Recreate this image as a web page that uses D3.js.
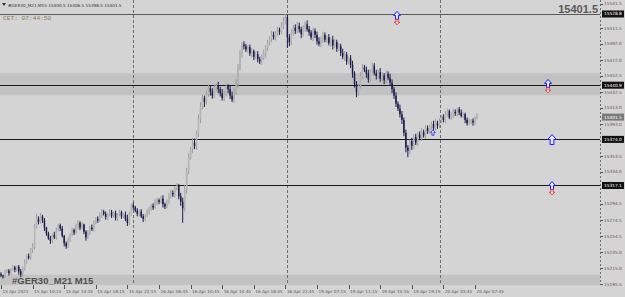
<!DOCTYPE html>
<html><head><meta charset="utf-8">
<script src="https://cdn.jsdelivr.net/npm/d3@7"></script>
<style>html,body{margin:0;padding:0;background:#d4d4d4;overflow:hidden}</style>
</head><body><svg id="c" width="625" height="297"></svg>
<script>
// ---- data ----
const symbolTitle = "#GER30_M21,M15";
const lastOHLC = ["15400.5", "15406.5", "15398.5", "15401.5"];
const serverTime = "CET:  07:44:50";
const watermark = "#GER30_M21 M15";
const firstOpen = 15208;
const closes = [
 15206,15205,15210,15212,15209,15214,15216,15213,15217,15211,
 15207,15215,15222,15230,15228,15238,15241,15266,15276,15272,
 15279,15274,15265,15258,15252,15249,15256,15253,15262,15268,
 15264,15255,15246,15242,15250,15256,15262,15259,15266,15271,
 15265,15269,15260,15253,15259,15265,15263,15271,15276,15274,
 15280,15285,15282,15278,15281,15284,15280,15283,15277,15281,
 15284,15279,15281,15276,15271,15282,15293,15290,15286,15282,
 15285,15279,15276,15280,15284,15288,15292,15290,15296,15299,
 15297,15301,15294,15291,15297,15303,15308,15306,15314,15317,
 15304,15297,15289,15312,15335,15352,15362,15370,15366,15381,
 15399,15415,15425,15420,15430,15437,15433,15428,15438,15441,
 15436,15431,15425,15430,15440,15436,15428,15423,15432,15441,
 15462,15480,15491,15489,15485,15488,15480,15483,15476,15479,
 15473,15470,15475,15480,15487,15493,15498,15503,15500,15505,
 15509,15507,15514,15519,15525,15500,15494,15505,15512,15508,
 15514,15510,15504,15511,15516,15510,15506,15500,15508,15503,
 15495,15492,15498,15503,15497,15500,15493,15497,15490,15494,
 15486,15489,15481,15476,15479,15470,15474,15466,15455,15442,
 15432,15440,15452,15463,15460,15455,15448,15458,15465,15456,
 15452,15457,15449,15453,15447,15455,15450,15444,15436,15428,
 15418,15412,15405,15398,15382,15364,15360,15372,15366,15377,
 15370,15380,15376,15383,15379,15388,15384,15390,15393,15388,
 15394,15391,15396,15402,15398,15405,15409,15401,15404,15408,
 15406,15411,15407,15403,15405,15398,15394,15396,15397,15395,
 15400.5,15401.5];
const upperWick = [
 2,1,3,2,2,1,3,2,1,2, 3,2,4,2,3,2,5,4,6,3, 4,2,3,1,2,3,2,4,3,2,
 2,3,1,2,3,2,3,2,4,3, 2,3,1,2,3,2,4,3,2,3, 4,3,2,3,2,4,3,2,3,2,
 3,2,2,4,5,3,2,3,2,3, 2,3,3,2,4,3,2,3,4,3, 2,3,4,2,3,5,4,3,2,3,
 2,4,5,6,4,5,3,6,5,4, 6,5,4,3,4,5,3,4,3,2, 4,3,5,4,3,2,4,5,6,7,
 5,4,3,4,3,2,3,4,2,3, 4,3,4,5,3,4,3,5,4,3, 4,3,5,6,4,3,4,5,3,4,
 5,4,3,4,3,5,4,3,4,3, 4,5,3,4,3,2,4,3,5,4, 3,4,3,5,4,3,2,4,5,3,
 4,3,5,4,3,4,5,3,4,3, 4,3,5,4,3,4,3,5,4,3, 4,3,5,4,3,4,3,2,4,3,
 4,3,4,5,3,4,3,2,3,4, 5,3,4,2,3,4,3,2,3,4, 3,2,3,4,3,2,3,4,2,3,
 2,5];
const lowerWick = [
 2,3,2,1,3,2,2,3,2,4, 3,2,3,2,2,3,4,3,2,3, 2,3,4,3,2,4,3,2,3,2,
 3,2,4,3,2,3,2,3,2,3, 3,2,3,4,2,3,2,3,2,3, 2,3,2,3,4,2,3,2,3,4,
 2,3,2,3,4,3,2,3,2,3, 3,2,4,3,2,3,2,3,2,3, 3,2,4,3,2,3,2,3,4,3,
 4,5,18,4,5,4,3,5,4,5, 4,5,4,6,3,4,5,4,3,4, 5,4,3,4,3,5,4,3,4,3,
 4,3,5,4,3,4,3,5,4,3, 4,3,4,3,5,4,3,4,3,4, 3,4,3,4,3,13,5,4,3,4,
 3,4,5,3,4,3,4,3,5,4, 4,3,4,5,3,4,3,4,5,3, 4,3,4,3,5,4,3,4,5,4,
 6,4,3,4,3,5,4,3,4,3, 4,3,4,3,5,4,3,4,5,4, 4,3,4,5,4,6,8,4,5,4,
 3,4,3,4,3,4,3,3,4,3, 3,4,3,2,3,4,3,2,3,4, 3,4,3,2,3,4,3,2,3,4,
 3,2];
const timeTickIdx = [0,16,32,48,64,80,96,112,128,144,160,176,192,208,224,240];
const timeTickLabels = ["15 Apr 2021","15 Apr 10:15","15 Apr 14:15","15 Apr 18:15","15 Apr 22:15",
 "16 Apr 06:45","16 Apr 10:45","16 Apr 14:45","16 Apr 18:45","16 Apr 22:45","19 Apr 07:15",
 "19 Apr 11:15","19 Apr 15:15","19 Apr 19:15","20 Apr 03:45","20 Apr 07:45"];
const priceTicks = [15541.5,15511.5,15492.0,15472.0,15452.5,15432.5,15413.0,15393.0,15353.5,
 15334.0,15294.5,15274.5,15254.5,15235.0,15215.0,15195.5];
const levelPrices = [15528.8, 15440.9, 15374.0, 15317.1];
const levelLabels = ["15528.8","15440.9","15374.0","15317.1"];
const zoneLow = [15428.5, 15180];
const zoneHigh = [15455.7, 15207];
const gridIdx = [66.8, 144.8, 222.3];
// arrows: index, top price, has red
const arrowIdx = [200.5, 277, 279, 279];
const arrowPrice = [15532, 15448, 15380, 15322];
const arrowRed = [true, true, false, true];
const arrowSize = [1, 1, 1.25, 1];
const markerIdx = [218.7];
const markerPrice = [15386];

// ---- drawing ----
const svg = d3.select("#c");
const plotR = 600, plotB = 285;
const x = d3.scaleLinear().domain([0, 1]).range([1, 2.975]);
const y = d3.scaleLinear().domain([15195.5, 15511.5]).range([284, 28]);

const g = svg.append("g");
// zones
g.selectAll("rect.zone").data(zoneLow).join("rect")
 .attr("x", 0).attr("width", plotR)
 .attr("y", (d,i)=>y(zoneHigh[i]))
 .attr("height", (d,i)=>Math.min(plotB, y(d)) - y(zoneHigh[i]))
 .attr("fill", "#c2c2c2");

// vertical grid
g.selectAll("line.grid").data(gridIdx).join("line")
 .attr("x1", d=>Math.round(x(d))+0.5).attr("x2", d=>Math.round(x(d))+0.5)
 .attr("y1", 0).attr("y2", plotB)
 .attr("stroke", "#6e6e6e").attr("stroke-width", 1).attr("stroke-dasharray", "3,2");
// right axis line
g.append("line").attr("x1", plotR+0.5).attr("x2", plotR+0.5).attr("y1", 0).attr("y2", plotB)
 .attr("stroke", "#6e6e6e").attr("stroke-dasharray", "2,2");

// level lines
g.selectAll("line.lvl").data(levelPrices).join("line")
 .attr("x1", 0).attr("x2", plotR)
 .attr("y1", d=>Math.round(y(d))+0.5).attr("y2", d=>Math.round(y(d))+0.5)
 .attr("stroke", (d,i)=> i===0 ? "#5a5a5a" : "#1a1a1a").attr("stroke-width", 1);

// candles
const candles = closes.map((c,i)=>{
  const o = i===0 ? firstOpen : closes[i-1];
  return {i, o, c, h: Math.max(o,c)+upperWick[i], l: Math.min(o,c)-lowerWick[i]};
});
const cg = g.append("g");
cg.selectAll("line").data(candles).join("line")
 .attr("x1", d=>x(d.i)).attr("x2", d=>x(d.i))
 .attr("y1", d=>y(d.h)).attr("y2", d=>y(d.l))
 .attr("stroke", d=> d.c>=d.o ? "#9c9c9c" : "#1c1c4e").attr("stroke-width", 1);
cg.selectAll("rect").data(candles).join("rect")
 .attr("x", d=>x(d.i)-0.75).attr("width", 1.5)
 .attr("y", d=>y(Math.max(d.o,d.c)))
 .attr("height", d=>Math.max(1, y(Math.min(d.o,d.c)) - y(Math.max(d.o,d.c))))
 .attr("fill", d=> d.c>=d.o ? "#b4b4b4" : "#1c1c4e");

// arrows
function upArrow(cx, ty, s){
  const w=3.5*s, h=4*s, sw=1.5*s, t=8*s;
  return `M${cx},${ty} L${cx+w},${ty+h} L${cx+sw},${ty+h} L${cx+sw},${ty+t} L${cx-sw},${ty+t} L${cx-sw},${ty+h} L${cx-w},${ty+h} Z`;
}
function downArrow(cx, ty, s){
  const w=3*s, h=3*s, sw=1.2*s, t=6*s;
  return `M${cx-sw},${ty} L${cx+sw},${ty} L${cx+sw},${ty+h} L${cx+w},${ty+h} L${cx},${ty+t} L${cx-w},${ty+h} L${cx-sw},${ty+h} Z`;
}
arrowIdx.forEach((ai,k)=>{
  const cx = x(ai), ty = y(arrowPrice[k]), s = arrowSize[k];
  g.append("path").attr("d", upArrow(cx, ty, s)).attr("fill","#e8e8ff").attr("stroke","#1a1aff").attr("stroke-width",1);
  if (arrowRed[k]) g.append("path").attr("d", downArrow(cx, ty+8*s, s*0.9)).attr("fill","#ffe0e0").attr("stroke","#e02020").attr("stroke-width",0.8);
});
// small blue marker
markerIdx.forEach((mi,k)=>{
  g.append("path").attr("d", upArrow(x(mi), y(markerPrice[k]), 0.7))
   .attr("fill","none").attr("stroke","#3a3aff").attr("stroke-width",0.9);
});

// bottom label
g.append("text").attr("x", 12).attr("y", 284).attr("font-family","Liberation Sans, Arial")
 .attr("font-weight","bold").attr("font-size",9.5).attr("fill","#505050").text(watermark);

// header
g.append("path").attr("d","M2,3 L6,3 L4,6 Z").attr("fill","#333");
g.append("text").attr("x", 8).attr("y", 6.5).attr("font-family","DejaVu Sans").attr("font-size",4.2)
 .attr("fill","#333").text(symbolTitle + "  " + lastOHLC.join(" "));
g.append("text").attr("x", 3).attr("y", 20).attr("font-family","Liberation Mono, monospace").attr("font-size",6.2)
 .attr("fill","#8a7a5e").text(serverTime);
g.append("text").attr("x", 598).attr("y", 13).attr("text-anchor","end").attr("font-family","Liberation Sans, Arial")
 .attr("font-weight","bold").attr("font-size",11).attr("fill","#5a5a5a").text(lastOHLC[3]);

// right axis labels
const ax = svg.append("g");
ax.selectAll("line").data(priceTicks).join("line")
 .attr("x1", plotR).attr("x2", plotR+3).attr("y1", d=>Math.round(y(d))+0.5).attr("y2", d=>Math.round(y(d))+0.5)
 .attr("stroke","#555");
ax.selectAll("text").data(priceTicks).join("text")
 .attr("x", plotR+4).attr("y", d=>y(d)+1.5).attr("font-family","DejaVu Sans").attr("font-size",4.3)
 .attr("fill","#6a5050").text(d=>d.toFixed(1));
// level boxes
levelPrices.forEach((p,k)=>{
  ax.append("rect").attr("x", plotR+2).attr("y", y(p)-3.5).attr("width", 22).attr("height", 7).attr("fill","#111");
  ax.append("text").attr("x", plotR+4).attr("y", y(p)+1.5).attr("font-family","DejaVu Sans").attr("font-size",4.3)
   .attr("fill","#fff").text(levelLabels[k]);
});
// current price box
const cp = closes[closes.length-1];
ax.append("rect").attr("x", plotR+2).attr("y", y(cp)-3.5).attr("width", 22).attr("height", 7).attr("fill","#7a7a7a");
ax.append("text").attr("x", plotR+4).attr("y", y(cp)+1.5).attr("font-family","DejaVu Sans").attr("font-size",4.3)
 .attr("fill","#fff").text(cp.toFixed(1));

// bottom axis
const bx = svg.append("g");
bx.selectAll("line").data(timeTickIdx).join("line")
 .attr("x1", d=>Math.round(x(d))+0.5).attr("x2", d=>Math.round(x(d))+0.5).attr("y1", plotB).attr("y2", plotB+4)
 .attr("stroke","#555");
bx.selectAll("text").data(timeTickIdx).join("text")
 .attr("x", d=>x(d)+1.5).attr("y", plotB+7.5).attr("font-family","DejaVu Sans").attr("font-size",4.2)
 .attr("fill","#555").text((d,i)=>timeTickLabels[i]);
</script></body></html>
